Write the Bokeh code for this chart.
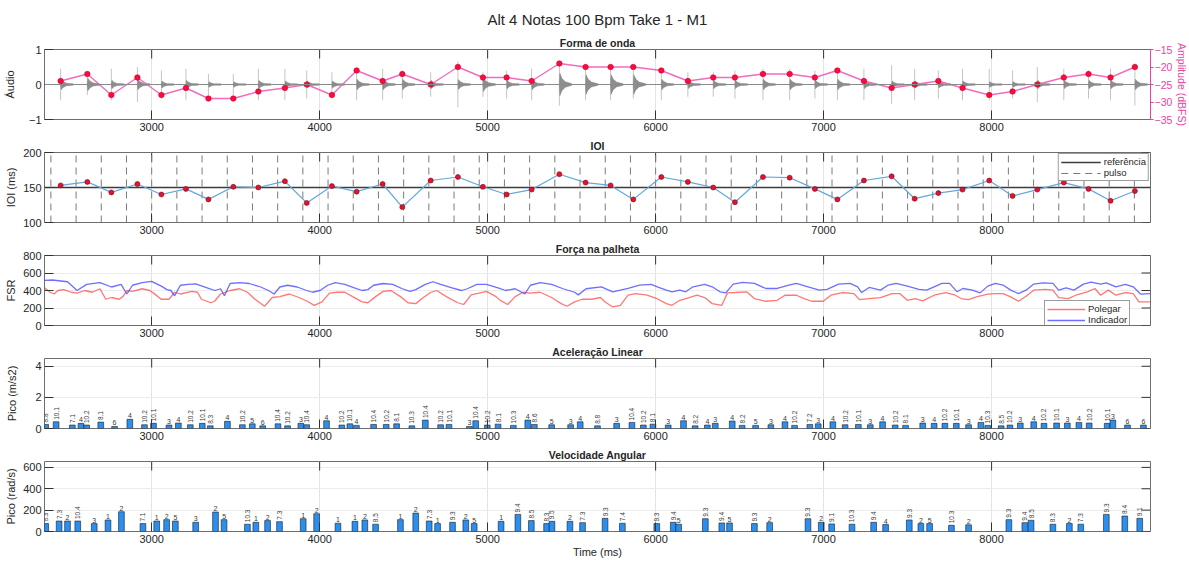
import math
from bokeh.plotting import figure
from bokeh.models import LinearAxis, Range1d, Title, FixedTicker, ColumnDataSource, Span
from bokeh.layouts import column
from bokeh.embed import file_html
from bokeh.resources import INLINE

FONT = "Liberation Sans"
TXT = "#262626"
X_START, X_END = 2362, 8946
X_TICKS = [3000, 4000, 5000, 6000, 7000, 8000]

# ---------------- data ----------------
onsets = [2458, 2617, 2760, 2915, 3058, 3204, 3338, 3486, 3635, 3793, 3923, 4073, 4220, 4375,
          4492, 4661, 4823, 4972, 5113, 5262, 5427, 5583, 5732, 5867, 6034, 6192, 6343, 6472, 6639, 6798,
          6948, 7082, 7240, 7405, 7542, 7683, 7827, 7986, 8125, 8272, 8430, 8577, 8708, 8853]
amp_db = [-24, -22, -28, -23, -28, -26, -29, -29, -27, -26, -25, -28, -21, -24,
          -22, -25, -20, -23, -23, -24, -19, -20, -20, -20, -21, -24, -23, -23, -22, -22,
          -23, -21, -24, -26, -25, -24, -26, -28, -27, -25, -23, -22, -23, -20]
wave_body = [0.15, 0.18, 0.12, 0.15, 0.10, 0.12, 0.08, 0.08, 0.12, 0.10, 0.10, 0.10, 0.15, 0.15,
             0.15, 0.12, 0.14, 0.20, 0.12, 0.15, 0.32, 0.28, 0.28, 0.28, 0.15, 0.12, 0.12, 0.12, 0.15, 0.15,
             0.12, 0.15, 0.12, 0.10, 0.10, 0.10, 0.10, 0.08, 0.08, 0.12, 0.12, 0.12, 0.12, 0.15]
wave_peak = [0.45, 0.30, 0.45, 0.50, 0.40, 0.45, 0.30, 0.30, 0.45, 0.45, 0.40, 0.35, 0.45, 0.45,
             0.40, 0.35, 0.65, 0.35, 0.40, 0.45, 0.60, 0.45, 0.45, 0.40, 0.45, 0.35, 0.35, 0.40, 0.45, 0.45,
             0.40, 0.45, 0.45, 0.55, 0.45, 0.40, 0.45, 0.45, 0.40, 0.50, 0.45, 0.40, 0.45, 0.60]
db_ticks = [-35, -30, -25, -20, -15]

ioi = [153, 158, 143, 155, 140, 148, 133, 151, 150, 159, 128, 152, 144, 155,
       122, 160, 165, 151, 140, 147, 169, 157, 153, 133, 165, 158, 150, 129, 165, 164,
       148, 133, 160, 166, 134, 142, 147, 160, 138, 147, 157, 148, 131, 145]
ioi_ref = 150
ioi_lim = [100, 200]
pulses = [2400, 2550, 2700, 2850, 3000, 3150, 3300, 3450, 3600, 3750, 3900, 4050, 4200, 4350,
          4500, 4650, 4800, 4950, 5100, 5250, 5400, 5550, 5700, 5850, 6000, 6150, 6300, 6450,
          6600, 6750, 6900, 7050, 7200, 7350, 7500, 7650, 7800, 7950, 8100, 8250, 8400, 8550,
          8700, 8850]

t_index = [2362, 2408, 2499, 2556, 2613, 2692, 2761, 2818, 2852, 2886, 2943, 3000, 3057, 3091, 3114,
           3137, 3171, 3216, 3262, 3330, 3376, 3410, 3433, 3467, 3524, 3581, 3649, 3695, 3729, 3763,
           3809, 3866, 3923, 3957, 4002, 4048, 4093, 4150, 4207, 4253, 4287, 4321, 4378, 4435, 4492,
           4538, 4572, 4629, 4674, 4720, 4788, 4845, 4879, 4936, 4993, 5062, 5107, 5164, 5221, 5255,
           5312, 5381, 5449, 5518, 5540, 5586, 5677, 5745, 5790, 5836, 5904, 5973, 6018, 6064, 6098,
           6144, 6178, 6223, 6292, 6337, 6383, 6417, 6462, 6519, 6588, 6656, 6724, 6793, 6838, 6907,
           6975, 7021, 7089, 7157, 7203, 7226, 7271, 7339, 7385, 7431, 7499, 7567, 7613, 7658, 7704,
           7750, 7795, 7829, 7886, 7932, 7977, 8023, 8068, 8114, 8160, 8205, 8251, 8308, 8365, 8399,
           8444, 8490, 8547, 8592, 8649, 8683, 8740, 8797, 8843, 8888, 8946]
fsr_index = [515, 520, 500, 400, 470, 490, 440, 470, 360, 460, 490, 505, 450, 410, 400,
             340, 460, 470, 475, 430, 400, 420, 340, 480, 490, 480, 440, 400, 360, 440,
             460, 440, 400, 380, 400, 460, 490, 470, 430, 400, 410, 460, 480, 470, 420,
             390, 410, 470, 500, 470, 430, 400, 420, 470, 470, 430, 400, 420, 360, 460,
             490, 470, 420, 380, 350, 420, 442, 385, 404, 423, 462, 469, 435, 404, 385,
             404, 385, 442, 469, 442, 385, 373, 473, 492, 481, 423, 423, 462, 481, 442,
             404, 412, 473, 481, 442, 377, 435, 404, 462, 481, 450, 412, 404, 442, 481,
             481, 385, 423, 404, 373, 450, 481, 462, 404, 365, 404, 473, 488, 481, 404,
             431, 404, 473, 496, 473, 488, 442, 469, 442, 358, 365]
t_thumb = [2362, 2396, 2419, 2442, 2476, 2522, 2556, 2601, 2647, 2692, 2727, 2761, 2806, 2829, 2852,
           2886, 2943, 2989, 3011, 3057, 3103, 3137, 3171, 3239, 3273, 3296, 3353, 3376, 3410, 3467,
           3524, 3570, 3615, 3672, 3718, 3763, 3820, 3877, 3923, 3968, 4014, 4059, 4105, 4150, 4196,
           4253, 4287, 4333, 4378, 4424, 4481, 4526, 4572, 4617, 4663, 4697, 4754, 4822, 4857, 4902,
           4948, 4993, 5050, 5073, 5119, 5164, 5210, 5255, 5312, 5381, 5438, 5472, 5518, 5563, 5620,
           5672, 5699, 5745, 5790, 5836, 5882, 5950, 6007, 6064, 6098, 6144, 6200, 6246, 6292, 6337,
           6394, 6428, 6474, 6542, 6588, 6656, 6724, 6770, 6838, 6884, 6929, 6998, 7043, 7112, 7180,
           7214, 7271, 7339, 7408, 7453, 7499, 7545, 7590, 7658, 7727, 7784, 7818, 7863, 7909, 7977,
           8023, 8068, 8114, 8160, 8205, 8251, 8319, 8365, 8399, 8456, 8501, 8570, 8615, 8649, 8695,
           8740, 8797, 8843, 8877, 8946]
fsr_thumb = [430, 380, 360, 400, 410, 380, 370, 400, 380, 420, 300, 320, 300, 330, 400,
             390, 420, 400, 370, 300, 300, 380, 360, 390, 380, 300, 260, 280, 360, 400,
             420, 380, 300, 220, 320, 330, 360, 320, 280, 230, 270, 370, 380, 380, 330,
             270, 260, 330, 390, 400, 330, 260, 250, 320, 380, 400, 330, 260, 240, 350,
             370, 390, 330, 290, 240, 330, 380, 370, 380, 320, 250, 220, 270, 300, 300,
             320, 269, 212, 231, 346, 365, 346, 308, 250, 231, 288, 319, 346, 319, 250,
             231, 373, 377, 385, 308, 277, 288, 346, 346, 308, 277, 277, 346, 377, 365,
             296, 308, 319, 365, 365, 288, 308, 281, 346, 377, 346, 308, 296, 327, 358,
             365, 365, 327, 277, 335, 404, 412, 404, 319, 308, 346, 385, 423, 346, 404,
             346, 377, 365, 269, 269]

acc_t = [2369, 2431, 2528, 2579, 2613, 2697, 2779, 2870, 2957, 3011, 3103, 3159, 3230, 3301, 3349,
         3451, 3540, 3599, 3661, 3752, 3809, 3888, 3923, 4041, 4132, 4180, 4219, 4321, 4396, 4458,
         4549, 4629, 4720, 4770, 4891, 4929, 4998, 5062, 5153, 5239, 5278, 5381, 5494, 5551, 5654,
         5768, 5859, 5927, 5984, 6075, 6166, 6235, 6308, 6355, 6456, 6515, 6595, 6686, 6770, 6827,
         6918, 6968, 7055, 7128, 7207, 7278, 7351, 7426, 7488, 7590, 7658, 7722, 7790, 7863, 7936,
         7977, 8057, 8109, 8171, 8251, 8312, 8387, 8451, 8520, 8581, 8688, 8722, 8809, 8904]
acc_peak = [0.26, 0.43, 0.22, 0.33, 0.22, 0.41, 0.13, 0.59, 0.24, 0.33, 0.22, 0.35, 0.24, 0.33, 0.17,
            0.46, 0.24, 0.30, 0.17, 0.30, 0.17, 0.33, 0.24, 0.50, 0.22, 0.30, 0.20, 0.26, 0.26, 0.30,
            0.17, 0.54, 0.24, 0.26, 0.13, 0.50, 0.22, 0.28, 0.20, 0.54, 0.26, 0.24, 0.24, 0.43, 0.17,
            0.33, 0.39, 0.22, 0.28, 0.22, 0.50, 0.17, 0.22, 0.33, 0.48, 0.20, 0.20, 0.24, 0.43, 0.20,
            0.26, 0.30, 0.43, 0.24, 0.26, 0.24, 0.43, 0.22, 0.20, 0.35, 0.33, 0.33, 0.33, 0.24, 0.39,
            0.20, 0.17, 0.22, 0.35, 0.43, 0.33, 0.35, 0.35, 0.39, 0.35, 0.33, 0.54, 0.22, 0.22]
acc_label = ["8.8", "10.1", "7.1", "4", "10.2", "8.1", "6", "4", "10.2", "10.1", "3", "4", "10.2", "10.1", "8.3",
             "4", "10.2", "5", "6", "10.4", "10.2", "3", "10.4", "4", "10.2", "10.1", "4", "10.4", "10.2", "8.1",
             "10.3", "10.4", "10.2", "10.1", "3", "10.4", "10.2", "8.1", "10.3", "4", "8.6", "5", "3", "4", "8.8",
             "3", "10.4", "10.2", "8.1", "3", "4", "8.2", "4", "3", "4", "8.2", "5", "3", "4", "10.2",
             "7.2", "3", "4", "10.2", "10.1", "3", "4", "10.2", "8.1", "3", "4", "10.2", "10.1", "3", "4",
             "10.3", "8.5", "10.2", "3", "4", "10.2", "10.1", "3", "4", "10.2", "10.1", "3", "6", "6"]

gyr_t = [2369, 2449, 2499, 2560, 2658, 2740, 2820, 2948, 3030, 3089, 3141, 3262, 3380, 3431, 3570,
         3620, 3690, 3761, 3902, 3982, 4109, 4210, 4269, 4333, 4481, 4572, 4652, 4702, 4791, 4870,
         4920, 5080, 5180, 5260, 5351, 5383, 5490, 5565, 5699, 5802, 6007, 6105, 6137, 6296, 6394,
         6440, 6588, 6679, 6907, 6986, 7048, 7169, 7298, 7369, 7510, 7579, 7631, 7761, 7863, 8103,
         8198, 8235, 8365, 8463, 8531, 8683, 8793, 8882]
gyr_peak = [74, 98, 98, 98, 74, 108, 185, 74, 98, 111, 98, 86, 182, 111, 68,
            86, 102, 92, 120, 166, 77, 95, 108, 68, 111, 172, 98, 74, 86, 108,
            74, 95, 160, 102, 74, 95, 95, 83, 123, 77, 74, 86, 68, 120, 80,
            80, 74, 83, 120, 86, 71, 68, 86, 65, 108, 74, 74, 58, 62, 111,
            83, 105, 68, 74, 68, 160, 145, 123]
gyr_label = ["8.3", "7.3", "2", "10.4", "3", "1", "2", "7.1", "1", "2", "5", "3", "2", "5", "10.3",
             "1", "2", "7.3", "1", "2", "1", "1", "2", "8.5", "1", "2", "7.3", "1", "9.3", "2",
             "5", "1", "9.4", "8.5", "8.3", "9.5", "2", "7.3", "9.3", "7.4", "9.3", "9.4", "5", "9.3", "9.4",
             "5", "9.3", "2", "9.3", "2", "9.1", "10.3", "9.4", "4", "9.3", "2", "5", "10.3", "2", "9.3",
             "9.4", "8.5", "8.3", "2", "7.3", "9.3", "8.4", "9.1"]

# ---------------- helpers ----------------
FRAME_W, FRAME_H = 1106, 70
TICK_PX = 9
TICK_COLOR = "#333333"


def style_axis(ax, size="11px"):
    ax.major_tick_in = TICK_PX
    ax.major_tick_out = 0
    ax.minor_tick_line_color = None
    ax.axis_line_color = None
    ax.major_tick_line_color = TICK_COLOR
    ax.major_label_text_font = FONT
    ax.major_label_text_font_size = size
    ax.major_label_text_color = TXT
    ax.major_label_standoff = 3
    ax.axis_label_text_font = FONT
    ax.axis_label_text_font_size = "11px"
    ax.axis_label_text_font_style = "normal"
    ax.axis_label_text_color = TXT


def mirror_ticks(p, y0, y1, yticks, right=True):
    """Draw MATLAB-style ticks on the top and right edges of the box."""
    n = len(X_TICKS)
    ylen = (y1 - y0) * TICK_PX / FRAME_H
    p.segment(x0=X_TICKS, x1=X_TICKS, y0=[y1] * n, y1=[y1 - ylen] * n,
              line_color=TICK_COLOR, line_width=1)
    if right:
        m = len(yticks)
        xlen = (X_END - X_START) * TICK_PX / FRAME_W
        p.segment(x0=[X_END] * m, x1=[X_END - xlen] * m, y0=yticks, y1=yticks,
                  line_color=TICK_COLOR, line_width=1)


def sub_title(text):
    return Title(text=text, align="center", text_font=FONT, text_font_size="10.5px",
                 text_font_style="bold", text_color=TXT, standoff=1)


def make_fig(y0, y1, yticks, ylabel, title, top, bottom, lab_standoff):
    p = figure(frame_width=FRAME_W, frame_height=FRAME_H,
               x_range=Range1d(X_START, X_END), y_range=Range1d(y0, y1),
               output_backend="svg", toolbar_location=None,
               min_border_left=44, min_border_right=4,
               min_border_top=top, min_border_bottom=bottom)
    p.outline_line_color = "#6e6e6e"
    p.outline_line_width = 1
    p.background_fill_color = "white"
    p.border_fill_color = "white"
    p.xaxis.ticker = FixedTicker(ticks=X_TICKS)
    p.yaxis.ticker = FixedTicker(ticks=yticks)
    for ax in p.xaxis + p.yaxis:
        style_axis(ax)
    p.yaxis.axis_label = ylabel
    p.yaxis.axis_label_standoff = lab_standoff
    p.xgrid.grid_line_color = "#e3e3e3"
    p.ygrid.grid_line_color = "#ececec"
    p.add_layout(sub_title(title), "above")
    mirror_ticks(p, y0, y1, yticks)
    return p


def bar_labels(p, xs, ys, labels):
    long_i = [i for i, s in enumerate(labels) if len(s) > 1]
    short_i = [i for i, s in enumerate(labels) if len(s) <= 1]
    src_l = ColumnDataSource(dict(x=[xs[i] for i in long_i], y=[ys[i] for i in long_i],
                                  t=[labels[i] for i in long_i]))
    src_s = ColumnDataSource(dict(x=[xs[i] for i in short_i], y=[ys[i] for i in short_i],
                                  t=[labels[i] for i in short_i]))
    p.text(x="x", y="y", text="t", source=src_l, angle=math.pi / 2, text_align="left",
           text_baseline="middle", y_offset=-2, text_font_size="6.5px", text_color="#3a3a3a",
           text_font={"value": FONT})
    p.text(x="x", y="y", text="t", source=src_s, angle=0, text_align="center",
           text_baseline="bottom", y_offset=-1, text_font_size="7px", text_color="#3a3a3a",
           text_font={"value": FONT})


# ---------------- panel 1: waveform ----------------
p1 = figure(frame_width=FRAME_W, frame_height=FRAME_H,
            x_range=Range1d(X_START, X_END), y_range=Range1d(-1, 1),
            output_backend="svg", toolbar_location=None,
            min_border_left=44, min_border_right=0, min_border_top=49, min_border_bottom=18)
p1.outline_line_color = "#6e6e6e"
p1.xaxis.ticker = FixedTicker(ticks=X_TICKS)
p1.yaxis.ticker = FixedTicker(ticks=[-1, 0, 1])
for ax in p1.xaxis + p1.yaxis:
    style_axis(ax)
p1.yaxis.axis_label = "Áudio"
p1.yaxis.axis_label_standoff = 10
p1.xgrid.grid_line_color = "#e3e3e3"
p1.ygrid.grid_line_color = None
p1.extra_y_ranges = {"db": Range1d(-35, -15)}
MAG = "#e8449f"
rax = LinearAxis(y_range_name="db", ticker=FixedTicker(ticks=db_ticks), axis_label="Amplitude (dBFS)")
style_axis(rax, "10.5px")
rax.axis_line_color = MAG
rax.major_tick_line_color = MAG
rax.major_tick_in = 0
rax.major_tick_out = 3
rax.major_label_text_color = MAG
rax.major_label_standoff = 1
rax.axis_label_text_color = MAG
rax.axis_label_text_font_size = "10.5px"
rax.axis_label_standoff = 1
p1.add_layout(rax, "right")
p1.add_layout(sub_title("Forma de onda"), "above")
p1.add_layout(Title(text="Alt 4 Notas 100 Bpm Take 1 - M1", align="center", text_font=FONT,
                    text_font_size="15px", text_font_style="normal", text_color=TXT, standoff=14), "above")

p1.add_layout(Span(location=0, dimension="width", line_color="#8a8a8a", line_width=1))
p1.segment(x0=onsets, y0=[-a for a in wave_peak], x1=onsets, y1=wave_peak,
           line_color="#c4c4c4", line_width=1)
wx = [[t, t + 3, t + 15, t + 35, t + 75, t + 75, t + 35, t + 15, t + 3] for t in onsets]
wy = [[0, a, 0.55 * a, 0.25 * a, 0.02, -0.02, -0.25 * a, -0.55 * a, -a] for a in wave_body]
p1.patches(xs=wx, ys=wy, fill_color="#7a7a7a", fill_alpha=0.85, line_color="#7a7a7a",
           line_width=0.5, line_alpha=0.85)
mirror_ticks(p1, -1, 1, [], right=False)
p1.line(onsets, amp_db, y_range_name="db", line_color="#f06cc0", line_width=1.4)
p1.scatter(onsets, amp_db, y_range_name="db", size=5.5, fill_color="#ff0a3c",
           line_color="#c8002c", line_width=0.6)

# ---------------- panel 2: IOI ----------------
p2 = make_fig(100, 200, [100, 150, 200], "IOI (ms)", "IOI", 14, 18, 3)
p2.line([X_START, X_END], [ioi_ref, ioi_ref], line_color="#3c3c3c", line_width=1.3,
        legend_label="referência")
p2.segment(x0=pulses, y0=[ioi_lim[0]] * len(pulses), x1=pulses, y1=[ioi_lim[1]] * len(pulses),
           line_color="#7a7a7a", line_width=1, line_dash="7 5", legend_label="pulso")
p2.line(onsets, ioi, line_color="#62a8dc", line_width=1.2)
p2.scatter(onsets, ioi, size=5, fill_color="#e8102e", line_color="#7a0a1a", line_width=0.6)
lg = p2.legend[0]
lg.location = "top_right"
lg.margin = 1
lg.padding = 2
lg.spacing = 0
lg.label_text_font = FONT
lg.label_text_font_size = "9.5px"
lg.label_text_color = TXT
lg.glyph_width = 40
lg.glyph_height = 10
lg.label_height = 10
lg.label_standoff = 3
lg.border_line_color = "#3c3c3c"
lg.background_fill_alpha = 1

# ---------------- panel 3: FSR ----------------
p3 = make_fig(0, 800, [0, 200, 400, 600, 800], "FSR", "Força na palheta", 14, 18, 3)
p3.line(t_thumb, fsr_thumb, line_color="#ff4a4a", line_alpha=0.75, line_width=1.3, legend_label="Polegar")
p3.line(t_index, fsr_index, line_color="#4a4aff", line_alpha=0.8, line_width=1.3, legend_label="Indicador")
lg3 = p3.legend[0]
lg3.location = (1000, -3)
lg3.margin = 0
lg3.padding = 2
lg3.spacing = 0
lg3.label_text_font = FONT
lg3.label_text_font_size = "9.5px"
lg3.label_text_color = TXT
lg3.glyph_width = 38
lg3.glyph_height = 10
lg3.label_height = 10
lg3.label_standoff = 3
lg3.border_line_color = "#3c3c3c"
lg3.background_fill_alpha = 1

# ---------------- panel 4: linear acceleration ----------------
p4 = make_fig(0, 4.5, [0, 2, 4], "Pico (m/s2)", "Aceleração Linear", 14, 18, 14)
p4.vbar(x=acc_t, top=acc_peak, width=34, bottom=0, fill_color="#2b8ff0",
        line_color="#1c1c1c", line_width=0.6)
bar_labels(p4, acc_t, acc_peak, acc_label)

# ---------------- panel 5: angular velocity ----------------
p5 = make_fig(0, 655, [0, 200, 400, 600], "Pico (rad/s)", "Velocidade Angular", 14, 30, 3)
p5.below[0].axis_label = "Time (ms)"
p5.below[0].axis_label_standoff = 0
p5.vbar(x=gyr_t, top=gyr_peak, width=34, bottom=0, fill_color="#2b8ff0",
        line_color="#1c1c1c", line_width=0.6)
bar_labels(p5, gyr_t, gyr_peak, gyr_label)

layout = column(p1, p2, p3, p4, p5, spacing=0)
open("out.html", "w").write(file_html(layout, INLINE))
